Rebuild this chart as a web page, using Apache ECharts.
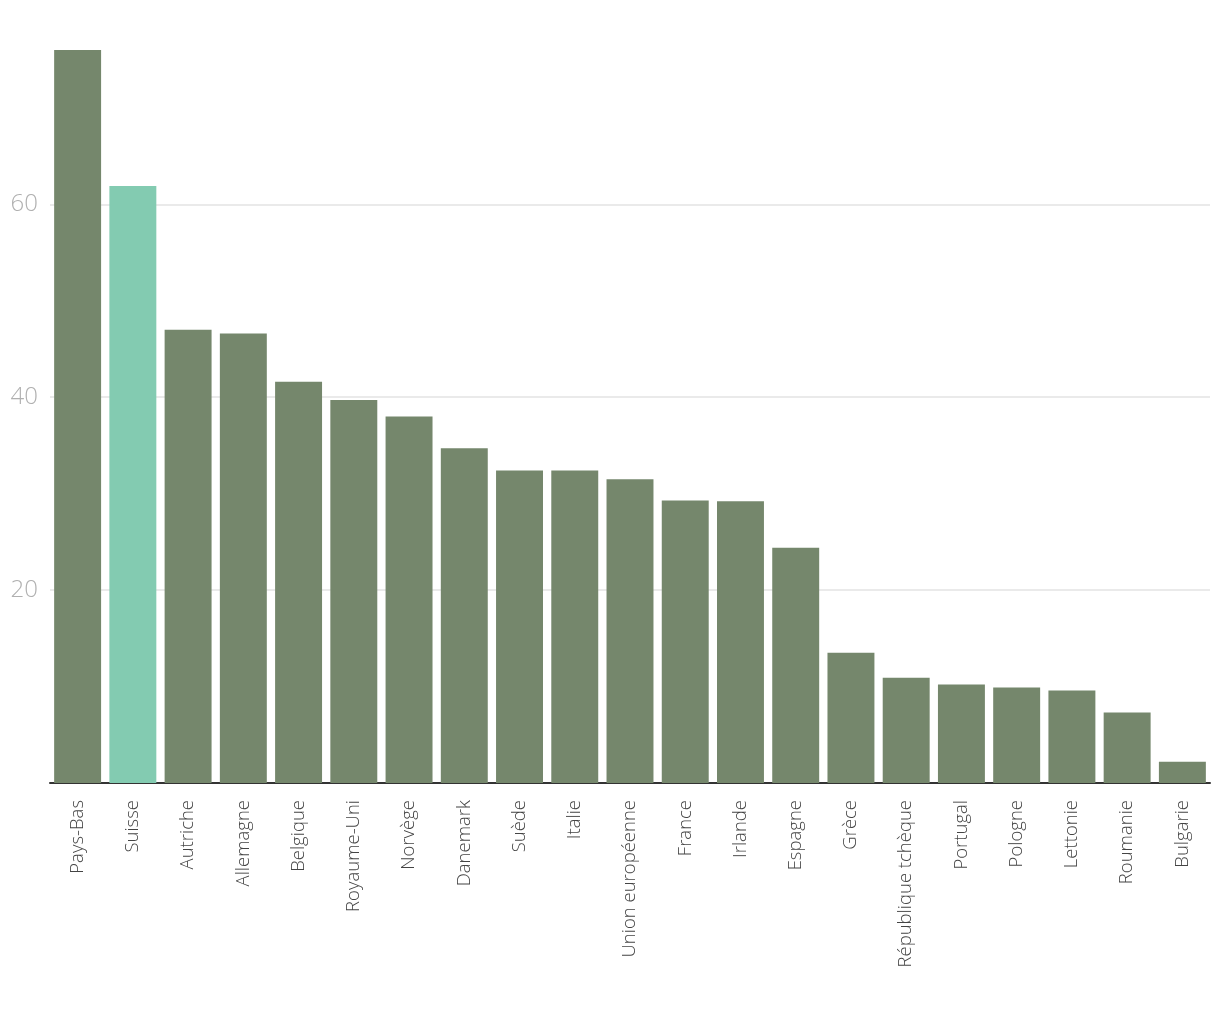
<!DOCTYPE html>
<html>
<head>
<meta charset="utf-8">
<script src="https://cdn.jsdelivr.net/npm/echarts@6/dist/echarts.min.js"></script>
<style>html,body{margin:0;padding:0;background:#fff}#c{width:1220px;height:1020px}</style>
</head>
<body>
<div id="c"></div>
<script>
const categories = ["Pays-Bas","Suisse","Autriche","Allemagne","Belgique","Royaume-Uni","Norvège","Danemark","Suède","Italie","Union européenne","France","Irlande","Espagne","Grèce","République tchèque","Portugal","Pologne","Lettonie","Roumanie","Bulgarie"];
const values = [76, 61.9, 47.0, 46.6, 41.6, 39.7, 38.0, 34.7, 32.4, 32.4, 31.5, 29.3, 29.2, 24.4, 13.5, 10.9, 10.2, 9.9, 9.6, 7.3, 2.2];
const highlight = "Suisse";
const yTicks = [0, 20, 40, 60];

const chart = echarts.init(document.getElementById('c'), null, {renderer: 'canvas'});
chart.setOption({
  animation: false,
  grid: {left: 50, right: 10, top: 50, bottom: 237, containLabel: false},
  xAxis: {
    type: 'category',
    data: categories,
    axisLine: {show: true, lineStyle: {color: '#333', width: 2}},
    axisTick: {show: false},
    axisLabel: {rotate: 90, interval: 0, margin: 17, color: '#444', fontSize: 18.5, fontFamily: 'Open Sans', fontWeight: 300}
  },
  yAxis: {
    type: 'value',
    min: 0, max: 76, interval: 20,
    axisLine: {show: false},
    axisTick: {show: false},
    splitLine: {show: true, showMinLine: false, showMaxLine: false, lineStyle: {color: '#e3e3e3', width: 1.5}},
    axisLabel: {
      margin: 12, color: '#b0b0b0', fontSize: 24, fontFamily: 'Open Sans', fontWeight: 300,
      showMaxLabel: false,
      formatter: v => (yTicks.includes(v) && v !== 0) ? String(v) : ''
    }
  },
  series: [{
    type: 'bar',
    barCategoryGap: '15%',
    data: values.map((v, i) => ({value: v, itemStyle: {color: categories[i] === highlight ? '#83cbb1' : '#75876c'}})),
    z: 3
  }]
});
</script>
</body>
</html>
